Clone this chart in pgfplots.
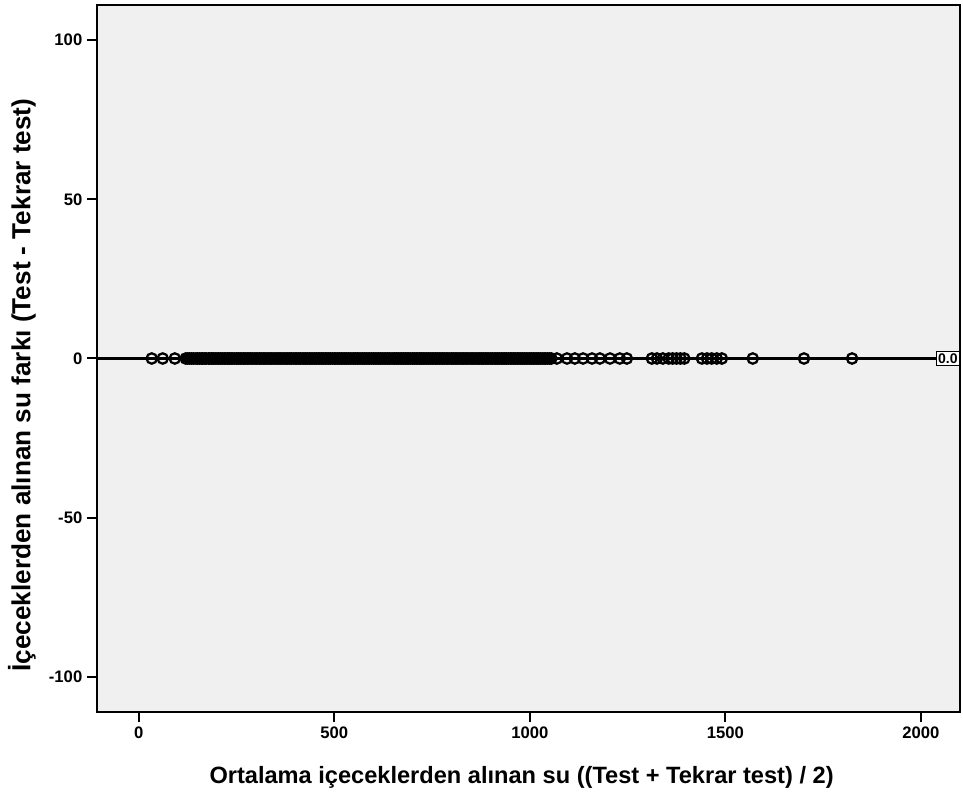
\documentclass[border=0pt]{standalone}
\usepackage{pgfplots}
\pgfplotsset{compat=1.18}
\usepackage{fontspec}
\setmainfont{Liberation Sans}
\definecolor{bgray}{HTML}{F0F0F0}
\begin{document}
\begin{tikzpicture}
\begin{axis}[
  scale only axis,
  width=647.25pt, height=530.25pt,
  xmin=-107, xmax=2100, ymin=-111, ymax=111,
  axis background/.style={fill=bgray},
  axis line style={black, line width=1.2pt},
  tick pos=left, tick align=outside,
  major tick length=7.5pt,
  tick style={black, line width=1.5pt},
  xtick={0,500,1000,1500,2000},
  ytick={-100,-50,0,50,100},
  /pgf/number format/assume math mode=true,
  /pgf/number format/set thousands separator={},
  ticklabel style={font=\fontsize{12.5}{14}\selectfont\bfseries},
  xlabel={Ortalama içeceklerden alınan su ((Test + Tekrar test) / 2)},
  ylabel={İçeceklerden alınan su farkı (Test - Tekrar test)},
  xlabel style={font=\fontsize{17.7}{19}\selectfont\bfseries, at={(rel axis cs:0.492,-0.092)}, anchor=center},
  ylabel style={font=\fontsize{19.6}{21}\selectfont\bfseries, at={(rel axis cs:-0.087,0.4625)}, anchor=center, rotate=0},
  clip=false,
]
\addplot[only marks, mark=o, mark size=3.9pt, mark options={line width=1.7pt, black}] table[row sep=\\] {
x y\\
33 0\\ 61 0\\ 92 0\\ 120 0\\ 125 0\\ 130 0\\
135 0\\ 140 0\\ 146 0\\ 150 0\\ 155 0\\ 160 0\\ 163 0\\ 168 0\\ 172 0\\ 178 0\\
181 0\\ 186 0\\ 190 0\\ 195 0\\ 200 0\\ 204 0\\ 209 0\\ 213 0\\ 218 0\\ 222 0\\
227 0\\ 231 0\\ 236 0\\ 240 0\\ 245 0\\ 250 0\\ 254 0\\ 259 0\\ 263 0\\ 268 0\\
272 0\\ 277 0\\ 281 0\\ 286 0\\ 290 0\\ 295 0\\ 300 0\\ 304 0\\ 309 0\\ 313 0\\
318 0\\ 322 0\\ 327 0\\ 331 0\\ 336 0\\ 340 0\\ 345 0\\ 350 0\\ 354 0\\ 359 0\\
363 0\\ 368 0\\ 372 0\\ 377 0\\ 381 0\\ 386 0\\ 390 0\\ 395 0\\ 400 0\\ 404 0\\
409 0\\ 413 0\\ 418 0\\ 422 0\\ 427 0\\ 431 0\\ 436 0\\ 440 0\\ 445 0\\ 450 0\\
454 0\\ 459 0\\ 463 0\\ 468 0\\ 472 0\\ 477 0\\ 481 0\\ 486 0\\ 490 0\\ 495 0\\
500 0\\ 504 0\\ 509 0\\ 513 0\\ 518 0\\ 522 0\\ 527 0\\ 531 0\\ 536 0\\ 540 0\\
545 0\\ 550 0\\ 554 0\\ 559 0\\ 563 0\\ 568 0\\ 572 0\\ 577 0\\ 581 0\\ 586 0\\
590 0\\ 595 0\\ 600 0\\ 604 0\\ 609 0\\ 613 0\\ 618 0\\ 622 0\\ 627 0\\ 631 0\\
636 0\\ 640 0\\ 645 0\\ 650 0\\ 654 0\\ 659 0\\ 663 0\\ 668 0\\ 672 0\\ 677 0\\
681 0\\ 686 0\\ 690 0\\ 695 0\\ 700 0\\ 704 0\\ 709 0\\ 713 0\\ 718 0\\ 722 0\\
727 0\\ 731 0\\ 736 0\\ 740 0\\ 745 0\\ 750 0\\ 754 0\\ 759 0\\ 763 0\\ 768 0\\
772 0\\ 777 0\\ 781 0\\ 786 0\\ 790 0\\ 795 0\\ 800 0\\ 804 0\\ 809 0\\ 813 0\\
818 0\\ 822 0\\ 827 0\\ 831 0\\ 836 0\\ 840 0\\ 845 0\\ 850 0\\ 854 0\\ 859 0\\
863 0\\ 868 0\\ 872 0\\ 877 0\\ 881 0\\ 886 0\\ 890 0\\ 895 0\\ 900 0\\ 904 0\\
909 0\\ 913 0\\ 918 0\\ 922 0\\ 927 0\\ 931 0\\ 936 0\\ 940 0\\ 945 0\\ 950 0\\
954 0\\ 959 0\\ 963 0\\ 968 0\\ 972 0\\ 977 0\\ 981 0\\ 986 0\\ 990 0\\ 995 0\\
1000 0\\ 1004 0\\ 1009 0\\ 1013 0\\ 1018 0\\ 1022 0\\ 1027 0\\ 1031 0\\ 1036 0\\
1040 0\\ 1045 0\\ 1050 0\\ 1055 0\\
1069 0\\ 1095 0\\ 1115 0\\ 1136 0\\ 1159 0\\ 1179 0\\ 1205 0\\ 1230 0\\ 1248 0\\
1312 0\\ 1325 0\\ 1340 0\\ 1355 0\\ 1365 0\\ 1375 0\\ 1385 0\\ 1395 0\\
1440 0\\ 1453 0\\ 1465 0\\ 1478 0\\ 1491 0\\
1570 0\\ 1701 0\\ 1824 0\\
};
\addplot[black, line width=2pt, forget plot] coordinates {(-107,0) (2100,0)};
\node[anchor=east, draw=black, fill=white, line width=0.7pt, inner sep=1.5pt, font=\fontsize{10.5}{11}\selectfont\bfseries] at (axis cs:2100,0) {0.0};
\coordinate (ll) at (rel axis cs:0,0);
\coordinate (ur) at (rel axis cs:1,1);
\end{axis}
\pgfresetboundingbox
\path ([shift={(-72.75pt,-63pt)}]ll) rectangle ([shift={(2.25pt,3.75pt)}]ur);
\end{tikzpicture}
\end{document}
